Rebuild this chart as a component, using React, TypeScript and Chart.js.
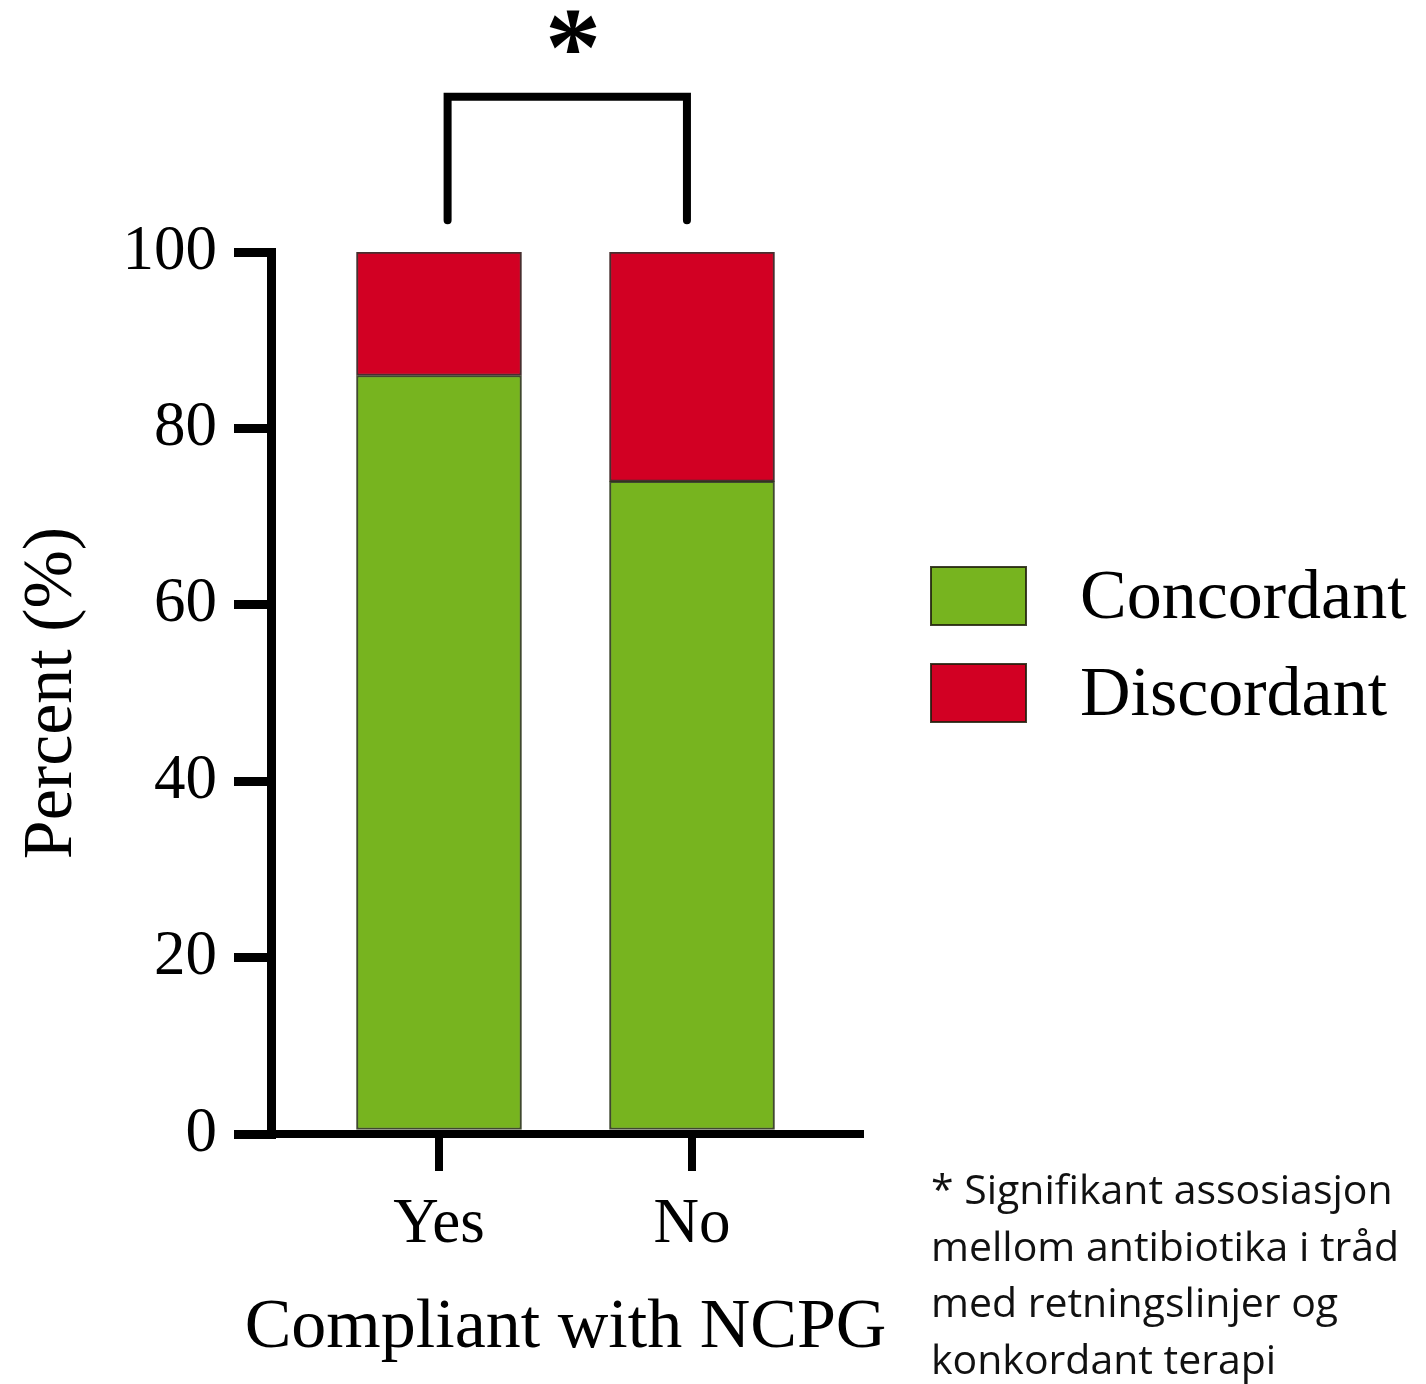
import React, { useEffect, useRef } from 'react';
import { Chart, registerables } from 'chart.js';

Chart.register(...registerables);

// ---- data ----
const categories = ['Yes', 'No'];
const categoryPositions = [1, 2];
const concordant = [86, 74];
const discordant = [14, 26];
const seriesLabels = ['Concordant', 'Discordant'];
const seriesColors = ['#77B41F', '#D20023'];
const yTicks = [0, 20, 40, 60, 80, 100];
const xTitle = 'Compliant with NCPG';
const yTitle = 'Percent (%)';
const significanceMark = '*';
const bracketX = [1.034, 1.98];
const bracketY = [103.6, 117.6];
const starPos = [1.53, 118.9];
const noteLines = [
  '* Signifikant assosiasjon',
  'mellom antibiotika i tråd',
  'med retningslinjer og',
  'konkordant terapi',
];

const SERIF = '"Liberation Serif", "Times New Roman", serif';
const SANS = '"Open Sans", "Noto Sans", sans-serif';

const overlayPlugin = {
  id: 'overlay',
  afterDraw(chart: any) {
    const { ctx, scales, chartArea } = chart;
    const x = scales.x;
    const y = scales.y;
    ctx.save();
    // significance bracket
    ctx.strokeStyle = '#000';
    ctx.lineWidth = 8;
    ctx.lineCap = 'round';
    ctx.lineJoin = 'miter';
    const xl = x.getPixelForValue(bracketX[0]);
    const xr = x.getPixelForValue(bracketX[1]);
    const yb = y.getPixelForValue(bracketY[0]);
    const yt = y.getPixelForValue(bracketY[1]);
    ctx.beginPath();
    ctx.moveTo(xl, yb);
    ctx.lineTo(xl, yt);
    ctx.lineTo(xr, yt);
    ctx.lineTo(xr, yb);
    ctx.stroke();
    ctx.fillStyle = '#000';
    ctx.font = `bold 112px ${SERIF}`;
    ctx.textAlign = 'center';
    ctx.textBaseline = 'alphabetic';
    ctx.fillText(significanceMark, x.getPixelForValue(starPos[0]), y.getPixelForValue(starPos[1]));

    // x axis title (drawn here so it is not squeezed to the axis width)
    ctx.font = `70px ${SERIF}`;
    ctx.fillText(xTitle, (chartArea.left + chartArea.right) / 2, 1347);

    // legend
    ctx.textAlign = 'left';
    ctx.font = `70px ${SERIF}`;
    chart.data.datasets.forEach((ds: any, i: number) => {
      const top = 567 + i * 97;
      ctx.fillStyle = ds.backgroundColor;
      ctx.fillRect(931, top, 95, 58);
      ctx.strokeStyle = 'rgba(30,30,10,0.85)';
      ctx.lineWidth = 2;
      ctx.strokeRect(931, top, 95, 58);
      ctx.fillStyle = '#000';
      ctx.fillText(ds.label, 1080, top + 51);
    });

    // note
    ctx.font = `41px ${SANS}`;
    ctx.fillStyle = '#111';
    noteLines.forEach((line, i) => {
      ctx.fillText(line, 931, 1204 + i * 56.5);
    });
    ctx.restore();
  },
};

export default function App() {
  const ref = useRef<HTMLCanvasElement | null>(null);

  useEffect(() => {
    if (!ref.current) return;
    Chart.defaults.color = '#000';
    const chart = new Chart(ref.current, {
      type: 'bar',
      data: {
        datasets: [
          {
            label: seriesLabels[0],
            data: categoryPositions.map((p, i) => ({ x: p, y: concordant[i] })),
            backgroundColor: seriesColors[0],
            borderColor: 'rgba(30,40,10,0.85)',
            borderWidth: 2,
            borderSkipped: false,
            barThickness: 165,
          },
          {
            label: seriesLabels[1],
            data: categoryPositions.map((p, i) => ({ x: p, y: discordant[i] })),
            backgroundColor: seriesColors[1],
            borderColor: 'rgba(40,10,10,0.85)',
            borderWidth: 2,
            borderSkipped: false,
            barThickness: 165,
          },
        ],
      },
      options: {
        responsive: false,
        animation: false,
        devicePixelRatio: 1,
        layout: { padding: { top: 252, left: 0, right: 566, bottom: 0 } },
        plugins: {
          legend: { display: false },
          tooltip: { enabled: false },
        },
        scales: {
          x: {
            type: 'linear',
            stacked: true,
            offset: false,
            min: 0.336,
            max: 2.664,
            afterBuildTicks: (scale: any) => {
              scale.ticks = categoryPositions.map((v) => ({ value: v }));
            },
            afterFit: (scale: any) => {
              scale.height = 250;
            },
            ticks: {
              callback: (v: any) => categories[categoryPositions.indexOf(Number(v))] ?? '',
              font: { family: SERIF, size: 63 },
              color: '#000',
              padding: 17,
              maxRotation: 0,
              autoSkip: false,
            },
            grid: {
              display: true,
              offset: false,
              drawOnChartArea: false,
              drawTicks: true,
              tickLength: 37,
              lineWidth: 8,
              color: '#000',
            },
            border: { display: true, width: 8, color: '#000' },
            title: { display: false, text: xTitle },
          },
          y: {
            type: 'linear',
            stacked: true,
            min: 0,
            max: 100,
            afterBuildTicks: (scale: any) => {
              scale.ticks = yTicks.map((v) => ({ value: v }));
            },
            afterFit: (scale: any) => {
              scale.width = 271;
            },
            ticks: {
              font: { family: SERIF, size: 63 },
              color: '#000',
              padding: 17,
            },
            grid: {
              display: true,
              drawOnChartArea: false,
              drawTicks: true,
              tickLength: 37,
              lineWidth: 9,
              color: '#000',
            },
            border: { display: true, width: 9, color: '#000' },
            title: {
              display: true,
              text: yTitle,
              font: { family: SERIF, size: 70 },
              color: '#000',
              padding: { top: 11, bottom: 0 },
            },
          },
        },
      } as any,
      plugins: [overlayPlugin],
    });
    return () => chart.destroy();
  }, []);

  return (
    <div style={{ position: 'absolute', left: 0, top: 0, width: 1426, height: 1384, background: '#fff' }}>
      <canvas ref={ref} width={1426} height={1384} style={{ display: 'block', width: 1426, height: 1384 }} />
    </div>
  );
}
